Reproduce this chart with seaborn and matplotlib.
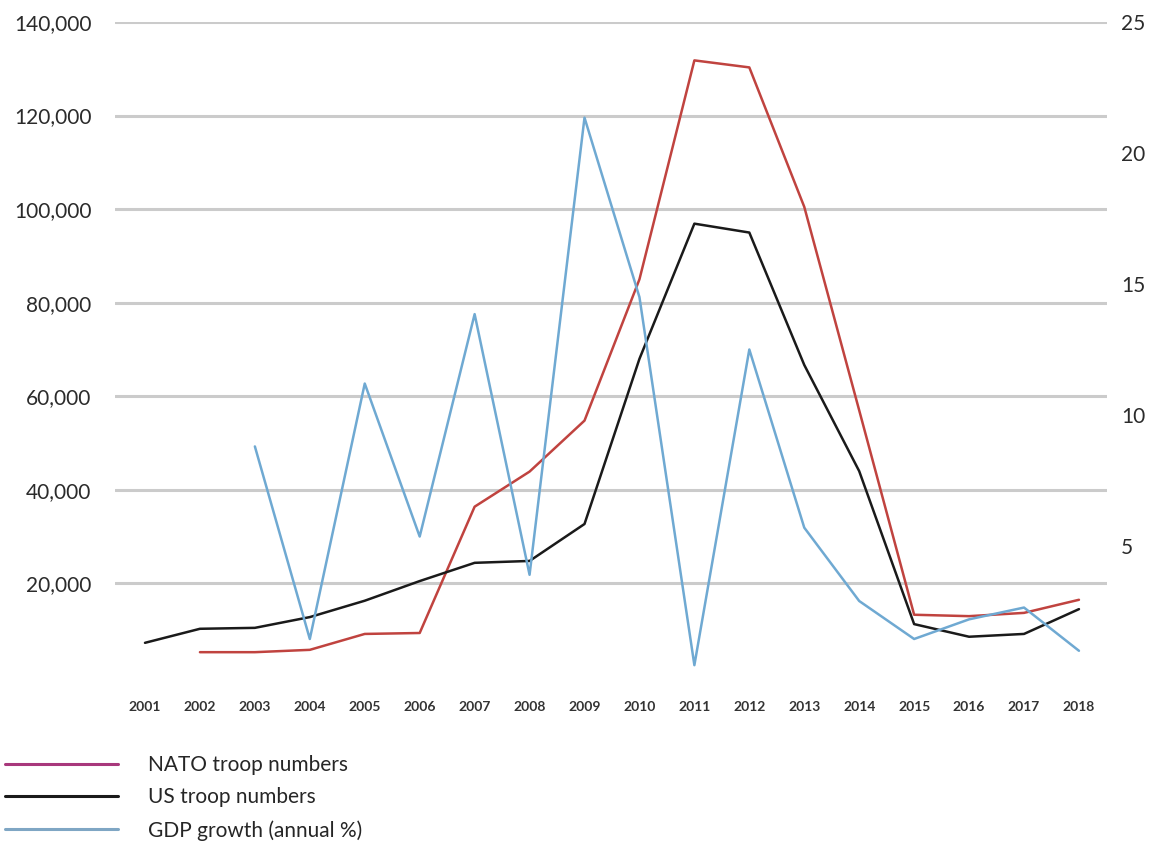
import numpy as np
import pandas as pd
import seaborn as sns
import matplotlib.pyplot as plt
from matplotlib.lines import Line2D
from matplotlib.ticker import FuncFormatter

# datos
years = list(range(2001, 2019))
us_troops = [7300, 10300, 10500, 12800, 16300, 20500, 24400, 24800, 32700, 68000,
             96900, 95000, 66700, 44000, 11300, 8600, 9200, 14500]
nato_troops = [np.nan, 5300, 5300, 5800, 9200, 9400, 36400, 43900, 54800, 85000,
               131800, 130300, 100500, 57000, 13300, 13000, 13700, 16500]
gdp_growth = [np.nan, np.nan, 8.8, 1.45, 11.2, 5.36, 13.85, 3.9, 21.35, 14.5,
              0.45, 12.5, 5.7, 2.9, 1.45, 2.2, 2.65, 1.0]

df = pd.DataFrame({'year': years, 'US': us_troops, 'NATO': nato_troops, 'GDP': gdp_growth})

sns.set_style('white')
plt.rcParams['font.family'] = ['Lato', 'DejaVu Sans']

c_nato = '#c0433f'
c_us = '#1a1a1a'
c_gdp = '#6fa9d2'
c_grid = '#cbcbcb'

fig = plt.figure(figsize=(11.64, 8.44), dpi=100)
ax = fig.add_axes([0.0988, 0.1979, 0.8522, 0.776])

for y in range(20000, 140001, 20000):
    ax.axhline(y, color=c_grid, lw=2.2, zorder=0)

sns.lineplot(data=df, x='year', y='NATO', color=c_nato, lw=1.8, ax=ax)
sns.lineplot(data=df, x='year', y='US', color=c_us, lw=1.8, ax=ax)

ax2 = ax.twinx()
sns.lineplot(data=df, x='year', y='GDP', color=c_gdp, lw=1.8, ax=ax2)

ax.set_xlim(2000.454, 2018.51)
ax.set_ylim(0, 140000)
ax2.set_ylim(0, 25)

ax.set_xticks(years)
ax.set_xticklabels([str(y) for y in years], fontsize=10, fontweight='bold', color='#333333')
ax.set_yticks(range(20000, 140001, 20000))
ax.yaxis.set_major_formatter(FuncFormatter(lambda v, p: f'{int(v):,}'))
ax.tick_params(axis='y', length=0, pad=17, labelsize=15, labelcolor='#2b2b2b')
ax.tick_params(axis='x', length=0, pad=17)
ax2.set_yticks([5, 10, 15, 20, 25])
ax2.tick_params(axis='y', length=0, pad=10, labelsize=15, labelcolor='#2b2b2b')

for a in (ax, ax2):
    a.set_xlabel('')
    a.set_ylabel('')
    for s in a.spines.values():
        s.set_visible(False)

handles = [Line2D([], [], color='#a8387c', lw=2.2),
           Line2D([], [], color=c_us, lw=2.2),
           Line2D([], [], color='#7fa6c4', lw=2.2)]
labels = ['NATO troop numbers', 'US troop numbers', 'GDP growth (annual %)']
fig.legend(handles, labels, loc='upper left', bbox_to_anchor=(0.0043, 0.1055),
           frameon=False, fontsize=15, handlelength=5.4, handletextpad=1.45,
           labelspacing=0.6, borderaxespad=0, borderpad=0)

fig.savefig('out.png', dpi=100)
